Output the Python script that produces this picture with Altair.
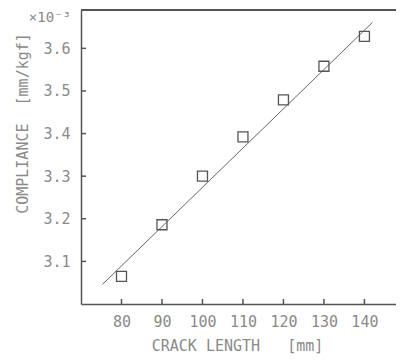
import altair as alt
import pandas as pd

# measured points
crack_length = [80, 90, 100, 110, 120, 130, 140]
compliance = [3.065, 3.186, 3.300, 3.392, 3.479, 3.558, 3.628]
# fitted straight line (end points)
fit_x = [75.3, 142.0]
fit_y = [3.046, 3.661]
# axis ticks
x_ticks = [80, 90, 100, 110, 120, 130, 140]
y_ticks = [3.1, 3.2, 3.3, 3.4, 3.5, 3.6]

W, H = 315, 294
FONT = "DejaVu Sans Mono"
TXT = "#8a8a8a"
INK = "#555555"
NB = "\u00a0"

pts = pd.DataFrame({"x": crack_length, "y": compliance})
fit = pd.DataFrame({"x": fit_x, "y": fit_y})
xt = pd.DataFrame({"x": x_ticks})
yt = pd.DataFrame({"y": y_ticks})

xscale = alt.Scale(domain=[70, 147.8], nice=False, zero=False)
yscale = alt.Scale(domain=[3.0, 3.69], nice=False, zero=False)

xaxis = alt.Axis(
    values=x_ticks, format="d", ticks=False, tickSize=0, grid=False,
    labelPadding=10, title="CRACK LENGTH" + NB * 3 + "[mm]", titlePadding=9,
    titleX=156, titleAlign="center",
)
yaxis = alt.Axis(
    values=y_ticks, format=".1f", ticks=False, tickSize=0, grid=False,
    labelPadding=11, title="COMPLIANCE" + NB * 2 + "[mm/kgf]",
    titleX=-59, titleY=113, titleAngle=-90, titleAlign="center",
    titleBaseline="middle",
)

def X(field="x"):
    return alt.X(f"{field}:Q", scale=xscale, axis=xaxis)

def Y(field="y"):
    return alt.Y(f"{field}:Q", scale=yscale, axis=yaxis)

points = alt.Chart(pts).mark_point(
    shape="square", size=100, filled=False, color=INK, strokeWidth=1.3, opacity=1
).encode(x=X(), y=Y())

line = alt.Chart(fit).mark_line(color="#666666", strokeWidth=1).encode(x=X(), y=Y())

yticks = alt.Chart(yt).mark_rule(color=INK, strokeWidth=1.5).encode(
    y=Y(), x=alt.value(0), x2=alt.value(5)
)
xticks = alt.Chart(xt).mark_rule(color=INK, strokeWidth=1.5).encode(
    x=X(), y=alt.value(H), y2=alt.value(H - 5)
)
top = alt.Chart(pts).mark_rule(color=INK, strokeWidth=1.3).encode(
    x=alt.value(0), x2=alt.value(W), y=alt.value(0)
)
exp = alt.Chart(pd.DataFrame({"t": ["×10⁻³"]})).mark_text(
    align="right", baseline="middle", font=FONT, fontSize=14, color=TXT
).encode(text="t:N", x=alt.value(-10), y=alt.value(8))

chart = (
    alt.layer(line, points, yticks, xticks, top, exp)
    .properties(
        width=W, height=H,
        autosize=alt.AutoSizeParams(type="none"),
        padding={"left": 73, "top": 2, "right": 0, "bottom": 51},
    )
    .configure_view(stroke=None)
    .configure_axis(
        domainColor=INK, domainWidth=1.5,
        labelFont=FONT, labelFontSize=15, labelColor=TXT,
        titleFont=FONT, titleFontSize=15, titleColor=TXT, titleFontWeight="normal",
    )
)

chart.save("out.html", embed_options={"renderer": "svg", "actions": False})
